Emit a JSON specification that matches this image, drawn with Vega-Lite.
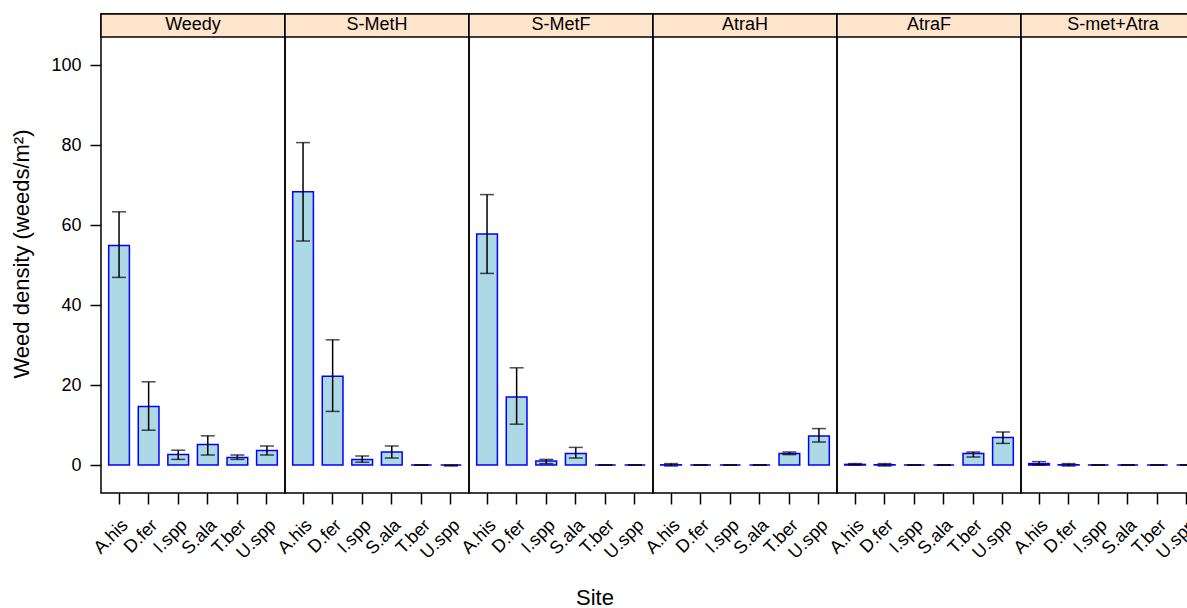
{
  "$schema": "https://vega.github.io/schema/vega-lite/v6.json",
  "padding": {"left": 10, "top": 12, "right": 0, "bottom": 0},
  "bounds": "flush",
  "title": {
    "text": "Site",
    "orient": "bottom",
    "anchor": "start",
    "align": "center",
    "frame": "group",
    "dx": 494,
    "offset": 26,
    "fontSize": 22,
    "font": "Liberation Sans",
    "fontWeight": "normal",
    "color": "black"
  },
  "data": {"values": [
    {"trt": "Weedy", "species": "A.his", "mean": 54.9, "lo": 46.9, "hi": 63.3},
    {"trt": "Weedy", "species": "D.fer", "mean": 14.6, "lo": 8.7, "hi": 20.8},
    {"trt": "Weedy", "species": "I.spp", "mean": 2.6, "lo": 1.4, "hi": 3.7},
    {"trt": "Weedy", "species": "S.ala", "mean": 5.1, "lo": 2.5, "hi": 7.3},
    {"trt": "Weedy", "species": "T.ber", "mean": 1.9, "lo": 1.4, "hi": 2.5},
    {"trt": "Weedy", "species": "U.spp", "mean": 3.6, "lo": 2.5, "hi": 4.75},
    {"trt": "S-MetH", "species": "A.his", "mean": 68.3, "lo": 56.0, "hi": 80.6},
    {"trt": "S-MetH", "species": "D.fer", "mean": 22.2, "lo": 13.4, "hi": 31.3},
    {"trt": "S-MetH", "species": "I.spp", "mean": 1.4, "lo": 0.7, "hi": 2.25},
    {"trt": "S-MetH", "species": "S.ala", "mean": 3.25, "lo": 1.75, "hi": 4.75},
    {"trt": "S-MetH", "species": "T.ber", "mean": 0, "lo": 0, "hi": 0},
    {"trt": "S-MetH", "species": "U.spp", "mean": 0, "lo": -0.25, "hi": 0},
    {"trt": "S-MetF", "species": "A.his", "mean": 57.75, "lo": 47.9, "hi": 67.6},
    {"trt": "S-MetF", "species": "D.fer", "mean": 17.0, "lo": 10.2, "hi": 24.3},
    {"trt": "S-MetF", "species": "I.spp", "mean": 1.0, "lo": 0.35, "hi": 1.4},
    {"trt": "S-MetF", "species": "S.ala", "mean": 2.9, "lo": 1.75, "hi": 4.4},
    {"trt": "S-MetF", "species": "T.ber", "mean": 0, "lo": 0, "hi": 0},
    {"trt": "S-MetF", "species": "U.spp", "mean": 0, "lo": 0, "hi": 0},
    {"trt": "AtraH", "species": "A.his", "mean": 0.05, "lo": -0.25, "hi": 0.35},
    {"trt": "AtraH", "species": "D.fer", "mean": 0, "lo": 0, "hi": 0},
    {"trt": "AtraH", "species": "I.spp", "mean": 0, "lo": 0, "hi": 0},
    {"trt": "AtraH", "species": "S.ala", "mean": 0, "lo": 0, "hi": 0},
    {"trt": "AtraH", "species": "T.ber", "mean": 2.9, "lo": 2.6, "hi": 3.25},
    {"trt": "AtraH", "species": "U.spp", "mean": 7.25, "lo": 5.75, "hi": 9.1},
    {"trt": "AtraF", "species": "A.his", "mean": 0.15, "lo": 0, "hi": 0.35},
    {"trt": "AtraF", "species": "D.fer", "mean": 0.05, "lo": -0.25, "hi": 0.35},
    {"trt": "AtraF", "species": "I.spp", "mean": 0, "lo": 0, "hi": 0},
    {"trt": "AtraF", "species": "S.ala", "mean": 0, "lo": 0, "hi": 0},
    {"trt": "AtraF", "species": "T.ber", "mean": 2.9, "lo": 2.0, "hi": 3.25},
    {"trt": "AtraF", "species": "U.spp", "mean": 6.9, "lo": 5.4, "hi": 8.25},
    {"trt": "S-met+Atra", "species": "A.his", "mean": 0.35, "lo": 0, "hi": 0.85},
    {"trt": "S-met+Atra", "species": "D.fer", "mean": 0.05, "lo": -0.25, "hi": 0.35},
    {"trt": "S-met+Atra", "species": "I.spp", "mean": 0, "lo": 0, "hi": 0},
    {"trt": "S-met+Atra", "species": "S.ala", "mean": 0, "lo": 0, "hi": 0},
    {"trt": "S-met+Atra", "species": "T.ber", "mean": 0, "lo": 0, "hi": 0},
    {"trt": "S-met+Atra", "species": "U.spp", "mean": 0, "lo": 0, "hi": 0}
  ]},
  "facet": {
    "column": {
      "field": "trt",
      "type": "nominal",
      "title": null,
      "sort": ["Weedy", "S-MetH", "S-MetF", "AtraH", "AtraF", "S-met+Atra"],
      "header": {"labels": false, "title": null}
    }
  },
  "spacing": 0,
  "spec": {
    "width": 184,
    "height": 479,
    "encoding": {
      "x": {
        "field": "species",
        "type": "nominal",
        "sort": ["A.his", "D.fer", "I.spp", "S.ala", "T.ber", "U.spp"],
        "scale": {"paddingInner": 0.3, "paddingOuter": 0.26},
        "axis": {
          "title": null,
          "labelAngle": -45,
          "labelAlign": "right",
          "labelBaseline": "top",
          "labelFontSize": 18,
          "labelFont": "Liberation Sans",
          "labelColor": "black",
          "labelPadding": 12,
          "tickSize": 11,
          "tickWidth": 1.5,
          "tickColor": "black",
          "domain": false
        }
      }
    },
    "layer": [
      {
        "mark": {"type": "bar", "fill": "#ADD8E6", "stroke": "#0000FF", "strokeWidth": 1.5},
        "encoding": {
          "y": {
            "field": "mean",
            "type": "quantitative",
            "scale": {"domain": [-7, 112.75], "nice": false, "zero": false},
            "axis": {
              "title": "Weed density (weeds/m²)",
              "values": [0, 20, 40, 60, 80, 100],
              "grid": false,
              "domain": false,
              "tickSize": 11,
              "tickWidth": 1.5,
              "tickColor": "black",
              "labelFontSize": 18,
              "labelFont": "Liberation Sans",
              "labelColor": "black",
              "labelPadding": 9,
              "titleFontSize": 22,
              "titleFont": "Liberation Sans",
              "titleFontWeight": "normal",
              "titleColor": "black",
              "titlePadding": 17
            }
          },
          "y2": {"datum": 0}
        }
      },
      {
        "mark": {"type": "rule", "color": "black", "strokeWidth": 1.5},
        "encoding": {
          "y": {"field": "lo", "type": "quantitative"},
          "y2": {"field": "hi"}
        }
      },
      {
        "mark": {"type": "tick", "color": "black", "thickness": 1.5, "size": 14, "orient": "horizontal"},
        "encoding": {"y": {"field": "lo", "type": "quantitative"}}
      },
      {
        "mark": {"type": "tick", "color": "black", "thickness": 1.5, "size": 14, "orient": "horizontal"},
        "encoding": {"y": {"field": "hi", "type": "quantitative"}}
      },
      {
        "transform": [{"filter": "datum.species === 'A.his'"}],
        "mark": {"type": "rect", "fill": "#FFE5CC", "stroke": "black", "strokeWidth": 1.5},
        "encoding": {
          "x": null,
          "y": {"datum": 107},
          "y2": {"datum": 112.75}
        }
      },
      {
        "transform": [{"filter": "datum.species === 'A.his'"}],
        "mark": {"type": "text", "fontSize": 18, "font": "Liberation Sans", "color": "black", "baseline": "middle", "align": "center"},
        "encoding": {
          "x": null,
          "y": {"datum": 109.9},
          "text": {"field": "trt"}
        }
      }
    ]
  },
  "config": {
    "view": {"stroke": "black", "strokeWidth": 1.5}
  }
}
